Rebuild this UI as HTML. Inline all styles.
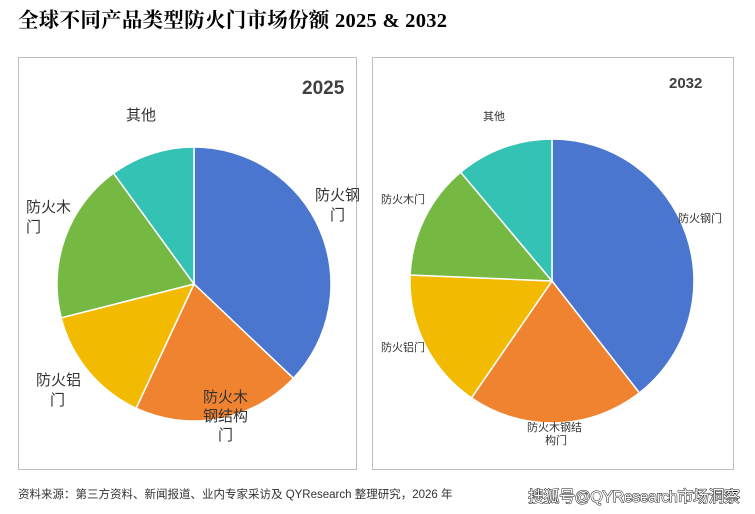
<!DOCTYPE html>
<html><head><meta charset="utf-8"><style>
body{margin:0;background:#fff;}
svg{display:block;}
</style></head><body>
<svg width="755" height="514" xmlns="http://www.w3.org/2000/svg" font-family="Liberation Sans, Noto Sans CJK SC, sans-serif">
<rect width="755" height="514" fill="#fff"/>
<text x="18" y="27" font-family="Liberation Serif, Noto Serif CJK SC, serif" font-weight="bold" font-size="20.5" fill="#000" textLength="429">全球不同产品类型防火门市场份额 2025 &amp; 2032</text>
<rect x="18.5" y="57.5" width="338" height="412" fill="none" stroke="#bfbfbf"/>
<rect x="372.5" y="57.5" width="361" height="412" fill="none" stroke="#bfbfbf"/>
<g stroke="#fff" stroke-width="1.5">
<path d="M194,284 L194,147 A137,137 0 0 1 293.4,378.3 Z" fill="#4A76CF"/>
<path d="M194,284 L293.4,378.3 A137,137 0 0 1 136.1,408.2 Z" fill="#F0832F"/>
<path d="M194,284 L136.1,408.2 A137,137 0 0 1 61.2,317.8 Z" fill="#F2BA00"/>
<path d="M194,284 L61.2,317.8 A137,137 0 0 1 113.5,173.2 Z" fill="#76B942"/>
<path d="M194,284 L113.5,173.2 A137,137 0 0 1 194,147 Z" fill="#33C2B3"/>
<path d="M552,281 L552,139 A142,142 0 0 1 639.4,392.9 Z" fill="#4A76CF"/>
<path d="M552,281 L639.4,392.9 A142,142 0 0 1 471.4,397.9 Z" fill="#F0832F"/>
<path d="M552,281 L471.4,397.9 A142,142 0 0 1 410.1,275 Z" fill="#F2BA00"/>
<path d="M552,281 L410.1,275 A142,142 0 0 1 460.7,172.2 Z" fill="#76B942"/>
<path d="M552,281 L460.7,172.2 A142,142 0 0 1 552,139 Z" fill="#33C2B3"/>
</g>
<g font-size="15" fill="#333">
<text x="302" y="94" font-size="19" font-weight="bold" fill="#404040">2025</text>
<text x="126" y="120">其他</text>
<text x="315" y="200">防火钢</text><text x="330" y="220">门</text>
<text x="26" y="212">防火木</text><text x="26" y="232">门</text>
<text x="36" y="385">防火铝</text><text x="50" y="405">门</text>
<text x="203" y="402">防火木</text><text x="203" y="421">钢结构</text><text x="218" y="440">门</text>
</g>
<g font-size="11" fill="#333">
<text x="669" y="88" font-size="15" font-weight="bold" fill="#404040">2032</text>
<text x="483" y="120">其他</text>
<text x="678" y="222">防火钢门</text>
<text x="381" y="203">防火木门</text>
<text x="381" y="351">防火铝门</text>
<text x="527" y="431">防火木钢结</text><text x="545" y="444">构门</text>
</g>
<text x="18" y="498" font-size="11.5" fill="#333">资料来源：第三方资料、新闻报道、业内专家采访及 QYResearch 整理研究，2026 年</text>
<text x="528" y="502" font-size="16" fill="#fff" stroke="#111" stroke-width="1" paint-order="stroke" textLength="212">搜狐号@QYResearch市场洞察</text>
</svg>
</body></html>
